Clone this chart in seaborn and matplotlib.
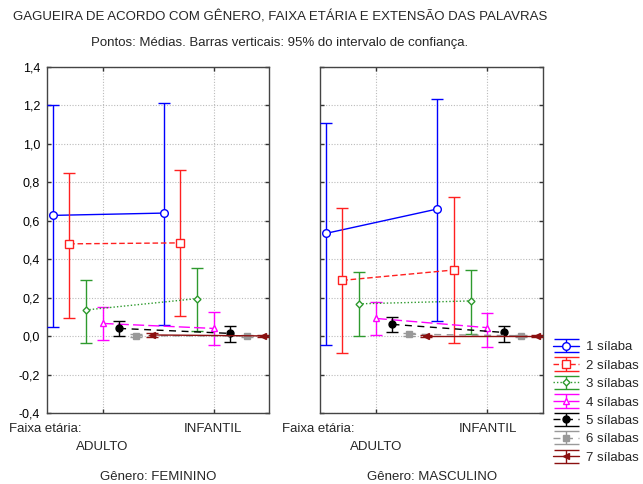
import matplotlib
matplotlib.use("Agg")
import matplotlib.pyplot as plt
import seaborn as sns
import numpy as np
import pandas as pd

# ---------------- data ----------------
series_names = ["1 sílaba", "2 sílabas", "3 sílabas", "4 sílabas",
                "5 sílabas", "6 sílabas", "7 sílabas"]
age_groups = ["ADULTO", "INFANTIL"]
genders = ["FEMININO", "MASCULINO"]

# means: [ADULTO, INFANTIL] per series
fem_mean = [[0.628, 0.640], [0.480, 0.485], [0.136, 0.195], [0.066, 0.040],
            [0.040, 0.014], [0.002, 0.001], [0.006, 0.001]]
fem_low = [[0.049, 0.058], [0.096, 0.105], [-0.035, 0.028], [-0.021, -0.047],
           [0.000, -0.030], [-0.006, -0.005], [-0.004, -0.004]]
fem_high = [[1.200, 1.215], [0.848, 0.866], [0.293, 0.356], [0.154, 0.127],
            [0.080, 0.054], [0.010, 0.007], [0.017, 0.006]]

mas_mean = [[0.534, 0.661], [0.290, 0.344], [0.168, 0.183], [0.092, 0.044],
            [0.061, 0.019], [0.010, 0.002], [0.001, 0.001]]
mas_low = [[-0.047, 0.080], [-0.087, -0.035], [0.000, 0.010], [0.005, -0.056],
           [0.023, -0.030], [0.002, -0.005], [-0.004, -0.004]]
mas_high = [[1.108, 1.236], [0.668, 0.724], [0.332, 0.342], [0.180, 0.122],
            [0.098, 0.054], [0.018, 0.008], [0.006, 0.006]]

ytick_values = [-0.4, -0.2, 0.0, 0.2, 0.4, 0.6, 0.8, 1.0, 1.2, 1.4]
ytick_labels = ["-0,4", "-0,2", "0,0", "0,2", "0,4", "0,6", "0,8", "1,0", "1,2", "1,4"]

title = "GAGUEIRA DE ACORDO COM GÊNERO, FAIXA ETÁRIA E EXTENSÃO DAS PALAVRAS"
subtitle = "Pontos: Médias. Barras verticais: 95% do intervalo de confiança."

# ---------------- styles ----------------
colors = ["#0000ff", "#ff2020", "#2e9a2e", "#ff00ff", "#000000", "#999999", "#8b1010"]
markers = ["o", "s", "D", "^", "o", "s", "<"]
msizes = [5.5, 5.5, 3.5, 4.5, 5, 5, 5]
mfaces = ["white", "white", "white", "white", "#000000", "#999999", "#8b1010"]
lstyles = ["-", (0, (4, 2)), (0, (1, 1.5)), (0, (8, 3)), (0, (5, 4)), (0, (5, 4)), "-"]

sns.set_style("white")
plt.rcParams["font.family"] = ["Liberation Sans", "DejaVu Sans"]

rows = []
for g, (M, L, H) in zip(genders, [(fem_mean, fem_low, fem_high),
                                  (mas_mean, mas_low, mas_high)]):
    for si, s in enumerate(series_names):
        for ai, a in enumerate(age_groups):
            rows.append(dict(gender=g, series=s, si=si, age=a, ai=ai,
                             mean=M[si][ai], low=L[si][ai], high=H[si][ai]))
df = pd.DataFrame(rows)
df["x"] = df["ai"] + (df["si"] - 3) * 0.15

fig = plt.figure(figsize=(6.43, 4.84), dpi=100)
ax1 = fig.add_axes([47 / 643, 1 - 413 / 484, 222 / 643, 346 / 484])
ax2 = fig.add_axes([320 / 643, 1 - 413 / 484, 223 / 643, 346 / 484])

for ax, g in zip([ax1, ax2], genders):
    sub = df[df.gender == g]
    for si, s in enumerate(series_names):
        d = sub[sub.si == si].sort_values("ai")
        ax.errorbar(d["x"], d["mean"],
                    yerr=[d["mean"] - d["low"], d["high"] - d["mean"]],
                    color=colors[si], linestyle=lstyles[si], linewidth=1.0,
                    marker=markers[si], markersize=msizes[si],
                    markerfacecolor=mfaces[si], markeredgecolor=colors[si],
                    markeredgewidth=1.0, capsize=4, capthick=1.0,
                    elinewidth=1.0, label=s, zorder=3 + si * 0.1)
    ax.set_xlim(-0.5, 1.5)
    ax.set_ylim(-0.4, 1.4)
    ax.set_xticks([0, 1])
    ax.set_xticklabels([])
    ax.set_yticks(ytick_values)
    ax.grid(True, linestyle=(0, (1, 1.5)), color="#bbbbbb", linewidth=0.8, zorder=0)
    ax.set_axisbelow(True)
    ax.tick_params(direction="in", length=3, width=1, top=True, right=True,
                   left=True, bottom=True, colors="#333333", labelcolor="black")
    for sp in ax.spines.values():
        sp.set_color("#444444")
        sp.set_linewidth(1.0)
    ax.set_xlabel("")
    ax.set_ylabel("")

ax1.set_yticklabels(ytick_labels, fontsize=9)
ax1.tick_params(axis="y", pad=5)
ax2.set_yticklabels([])

# legend proxies with wide caps (drawn in a hidden axes)
pax = fig.add_axes([0, 0, 0.01, 0.01])
pax.set_visible(False)
handles = []
for si, s in enumerate(series_names):
    h = pax.errorbar([0], [0], yerr=[[1], [1]], color=colors[si],
                     linestyle=lstyles[si], linewidth=1.0, marker=markers[si],
                     markersize=msizes[si], markerfacecolor=mfaces[si],
                     markeredgecolor=colors[si], markeredgewidth=1.0,
                     capsize=9, capthick=1.0, elinewidth=1.0, label=s)
    handles.append(h)

# title texts
fig.text(280 / 643, 1 - 17 / 484, title, ha="center", va="center", fontsize=9.5)
fig.text(280 / 643, 1 - 43 / 484, subtitle, ha="center", va="center", fontsize=9.5)

# category labels under panels
for ax_left, ax_cx, adult_x, inf_x, g in [(47, 158, 102, 213, genders[0]),
                                          (320, 432, 376, 488, genders[1])]:
    fig.text((ax_left - 38) / 643, 1 - 429 / 484, "Faixa etária:", ha="left",
             va="center", fontsize=9.5)
    fig.text(inf_x / 643, 1 - 429 / 484, age_groups[1], ha="center",
             va="center", fontsize=9.5)
    fig.text(adult_x / 643, 1 - 447 / 484, age_groups[0], ha="center",
             va="center", fontsize=9.5)
    fig.text(ax_cx / 643, 1 - 477 / 484, "Gênero: " + g, ha="center",
             va="center", fontsize=9.5)

fig.legend(handles=handles, labels=series_names, loc="upper left",
           bbox_to_anchor=(553 / 643, 1 - 341 / 484), frameon=False,
           fontsize=9.5, borderpad=0, borderaxespad=0, handlelength=2.0,
           handletextpad=0.5, labelspacing=0.47)

fig.savefig("out.png", dpi=100)
